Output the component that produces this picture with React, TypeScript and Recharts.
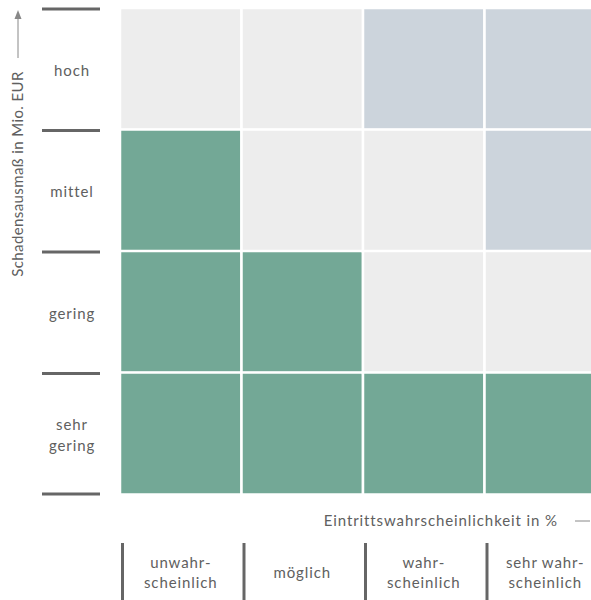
import React from "react";
import { BarChart, Bar, Cell, XAxis, YAxis } from "recharts";

// Risikomatrix: Schadensausmaß (Zeilen, oben = hoch) x Eintrittswahrscheinlichkeit (Spalten)
const rowLabels = ["hoch", "mittel", "gering", "sehr gering"];
const colLabels = [
  ["unwahr-", "scheinlich"],
  ["möglich"],
  ["wahr-", "scheinlich"],
  ["sehr wahr-", "scheinlich"],
];
// 0 = gering (grün), 1 = mittel (hellgrau), 2 = hoch (blaugrau)
const levelHoch = [1, 1, 2, 2];
const levelMittel = [0, 1, 1, 2];
const levelGering = [0, 0, 1, 1];
const levelSehrGering = [0, 0, 0, 0];
const levels = [levelHoch, levelMittel, levelGering, levelSehrGering];
const levelColors = ["#73a896", "#ededed", "#ccd4dc"];

const colKeys = ["c0", "c1", "c2", "c3"];
const data = rowLabels.map((row) => ({ row, c0: 1, c1: 1, c2: 1, c3: 1 }));

const W = 620;
const H = 600;
const LEFT = 120;
const TOP = 8;
const PLOT = 486;
const PITCH = PLOT / 4;
const FONT = "Lato, sans-serif";
const TEXT = "#606060";
const LINE = "#666";

const YTick = (props: any) => {
  const { y, payload } = props;
  const idx = rowLabels.indexOf(payload.value);
  const parts = String(payload.value).split(" ");
  return (
    <g>
      <line x1={42} x2={100} y1={y - PITCH / 2 + 1} y2={y - PITCH / 2 + 1} stroke={LINE} strokeWidth={3} />
      {idx === rowLabels.length - 1 && (
        <line x1={42} x2={100} y1={y + PITCH / 2} y2={y + PITCH / 2} stroke={LINE} strokeWidth={3} />
      )}
      {parts.map((p, i) => (
        <text
          key={i}
          x={72}
          y={y + (i - (parts.length - 1) / 2) * 21 + 7}
          textAnchor="middle"
          fontFamily={FONT}
          fontSize={15}
          letterSpacing={0.9}
          fill={TEXT}
        >
          {p}
        </text>
      ))}
    </g>
  );
};

const XTick = (props: any) => {
  const { x, payload } = props;
  const lines = colLabels[payload.value] || [];
  const cx = x + PITCH / 2;
  return (
    <g>
      <line x1={x + 2.5} x2={x + 2.5} y1={543} y2={600} stroke={LINE} strokeWidth={3} />
      {lines.map((l, i) => (
        <text
          key={i}
          x={cx}
          y={573 + (i - (lines.length - 1) / 2) * 20 + 5}
          textAnchor="middle"
          fontFamily={FONT}
          fontSize={15}
          letterSpacing={0.9}
          fill={TEXT}
        >
          {l}
        </text>
      ))}
    </g>
  );
};

const XTitle = () => (
  <g>
    <text x={558} y={526} textAnchor="end" fontFamily={FONT} fontSize={15} letterSpacing={0.9} fill={TEXT}>
      Eintrittswahrscheinlichkeit in %
    </text>
    <line x1={575} x2={590} y1={521} y2={521} stroke="#888" strokeWidth={1} />
  </g>
);

const YTitle = () => (
  <g>
    <text
      x={23}
      y={174}
      transform="rotate(-90 23 174)"
      textAnchor="middle"
      fontFamily={FONT}
      fontSize={15}
      letterSpacing={0.4}
      fill={TEXT}
    >
      Schadensausmaß in Mio. EUR
    </text>
    <line x1={18} x2={18} y1={18} y2={58} stroke="#888" strokeWidth={1} />
    <polygon points="18,10 14.5,19 21.5,19" fill="#888" />
  </g>
);

export default function App() {
  return (
    <div
      style={{
        position: "absolute",
        left: 0,
        top: 0,
        width: 591,
        height: 600,
        overflow: "hidden",
        background: "#fff",
      }}
    >
      <BarChart
        width={W}
        height={H}
        data={data}
        layout="vertical"
        barCategoryGap={0}
        barGap={0}
        margin={{ top: TOP, right: W - LEFT - PLOT, bottom: 0, left: 0 }}
      >
        <XAxis
          type="number"
          domain={[0, 4]}
          ticks={[0, 1, 2, 3]}
          height={H - TOP - PLOT}
          axisLine={false}
          tickLine={false}
          tick={<XTick />}
          label={{ content: <XTitle /> }}
        />
        <YAxis
          type="category"
          dataKey="row"
          width={LEFT}
          axisLine={false}
          tickLine={false}
          tick={<YTick />}
          label={{ content: <YTitle /> }}
        />
        {colKeys.map((k, j) => (
          <Bar key={k} dataKey={k} stackId="a" stroke="#fff" strokeWidth={2.5} isAnimationActive={false}>
            {data.map((_, i) => (
              <Cell key={i} fill={levelColors[levels[i][j]]} />
            ))}
          </Bar>
        ))}
      </BarChart>
    </div>
  );
}
